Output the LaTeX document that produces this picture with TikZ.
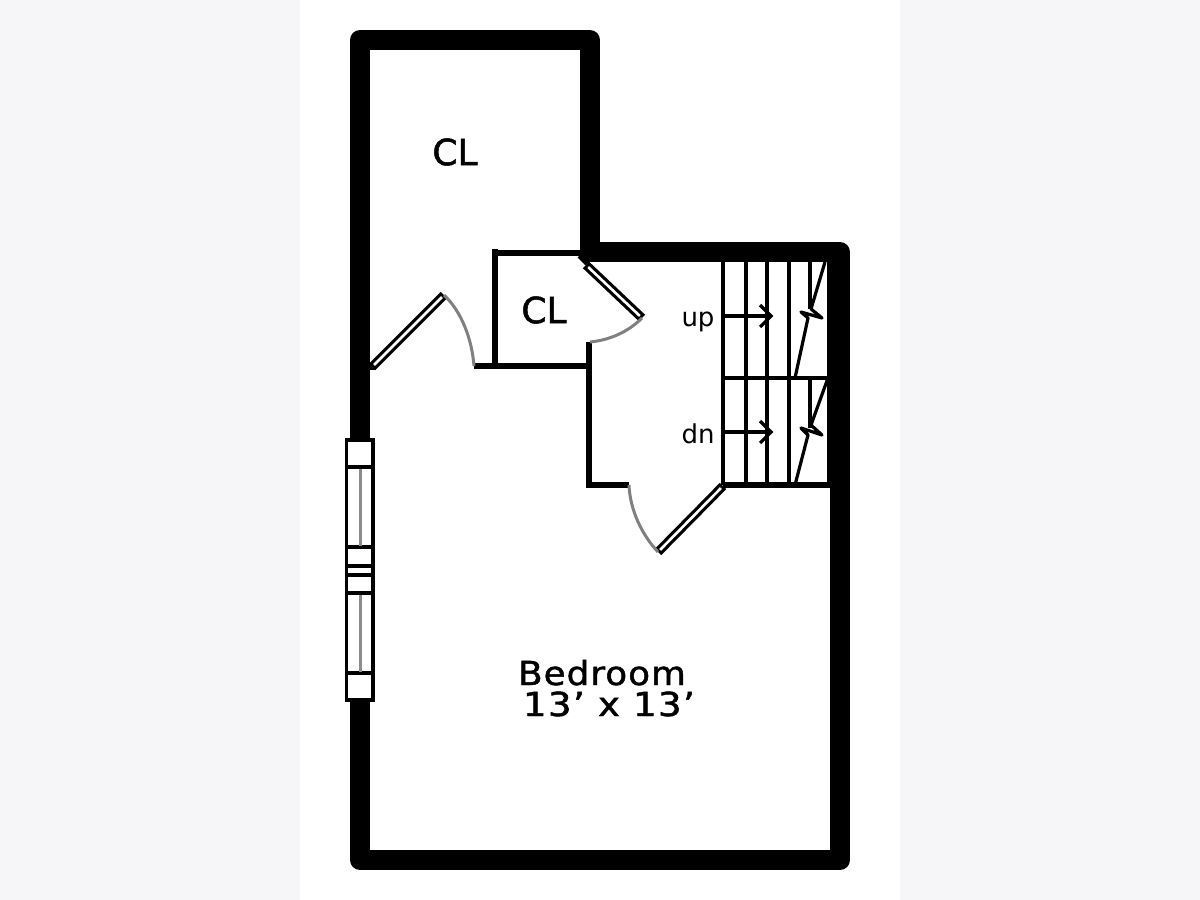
\documentclass[tikz,border=0pt]{standalone}
\usepackage{fontspec}
\setmainfont{DejaVu Sans}
\newfontfamily\labelfont[FakeBold=1.4]{DejaVu Sans}
\newfontfamily\bedfont[LetterSpace=3,FakeBold=1.4]{DejaVu Sans}
\newfontfamily\sizefont[LetterSpace=4,FakeBold=1.4]{DejaVu Sans}
\definecolor{bgcol}{HTML}{F6F5F8}
\tikzset{
  wall/.style={line width=20pt,line join=round,draw=black},
  partition/.style={line width=6.8pt,draw=black,line cap=butt},
  stairline/.style={line width=3.2pt,draw=black},
  swing/.style={line width=3pt,draw=black!50},
  sash/.style={line width=3.5pt,draw=black,fill=white},
  glass/.style={line width=3pt,draw=black!45},
  label/.style={inner sep=0pt,text=black},
}
\newcommand{\doorleaf}[2]{%
  \draw[line width=9pt,black] #1 -- #2;
  \draw[line width=2.6pt,white,shorten >=3pt,shorten <=3pt] #1 -- #2;}
\begin{document}
\begin{tikzpicture}[x=1pt,y=-1pt]
\useasboundingbox (0,0) rectangle (1200,900);
\fill[bgcol] (0,0) rectangle (1200,900);
\fill[white] (300,0) rectangle (900,900);
% outer walls
\draw[wall] (360,40) -- (590,40) -- (590,252) -- (840,252) -- (840,860) -- (360,860) -- cycle;
% partitions
\draw[partition] (495,249) -- (495,369);
\draw[partition] (492,253) -- (582,253);
\draw[partition] (474,366) -- (592,366);
\draw[partition] (589,342) -- (589,488);
\draw[partition] (586,485) -- (629,485);
\draw[partition] (723,485) -- (832,485);
\draw[partition] (368,367) -- (376,367);
\draw[line width=7pt,black] (580,255) -- (588,263);
% stairs
\foreach \sx in {723,746,767,789}
  \draw[stairline] (\sx,260) -- (\sx,485);
\draw[stairline] (723,378) -- (830,378);
\draw[stairline] (828.5,260) -- (828.5,485);
\draw[stairline] (810,260) -- (810,309);
\draw[stairline] (810,378) -- (810,428);
\draw[stairline,line join=round] (825,262) -- (811,309) -- (822,318) -- (801,312) -- (808,318) -- (795,378);
\draw[stairline,line join=round] (828,378) -- (811,425) -- (822,435) -- (801,428) -- (808,435) -- (795,485);
% arrows
\draw[stairline] (723,316) -- (771,316);
\draw[stairline] (760,305) -- (771,316) -- (760,327);
\draw[stairline] (723,432) -- (771,432);
\draw[stairline] (760,421) -- (771,432) -- (760,443);
% doors
\doorleaf{(372,367)}{(444,295)}
\doorleaf{(586,265)}{(642,318)}
\doorleaf{(658,552)}{(723,486)}
\draw[swing] (444,295) .. controls (462,312) and (472,340) .. (474,366);
\draw[swing] (642,318) .. controls (628,332) and (610,340) .. (590,342);
\draw[swing] (629,485) .. controls (630,510) and (642,535) .. (658,552);
% window
\draw[sash] (346.5,440) rectangle (373,700);
\foreach \wy in {467,547,566,575,593,673}
  \draw[line width=3.5pt,black] (346.5,\wy) -- (373,\wy);
\draw[glass] (360,469) -- (360,546);
\draw[glass] (360,595) -- (360,672);
% labels
\node[label,font=\labelfont\fontsize{36}{36}\selectfont] (closetA) at (455,152) {CL};
\node[label,font=\labelfont\fontsize{36}{36}\selectfont] (closetB) at (544,310) {CL};
\node[label,font=\fontsize{26}{26}\selectfont,anchor=base] (up) at (698,326) {up};
\node[label,font=\fontsize{26}{26}\selectfont,anchor=base] (dn) at (698,443) {dn};
\node[label,font=\bedfont\fontsize{33}{33}\selectfont,anchor=base] (bed) at (602,685) {\scalebox{1.08}[1]{Bedroom}};
\node[label,font=\sizefont\fontsize{33}{33}\selectfont,anchor=base] (size) at (609,716) {\scalebox{1.12}[1]{13’ x 13’}};
\end{tikzpicture}
\end{document}
